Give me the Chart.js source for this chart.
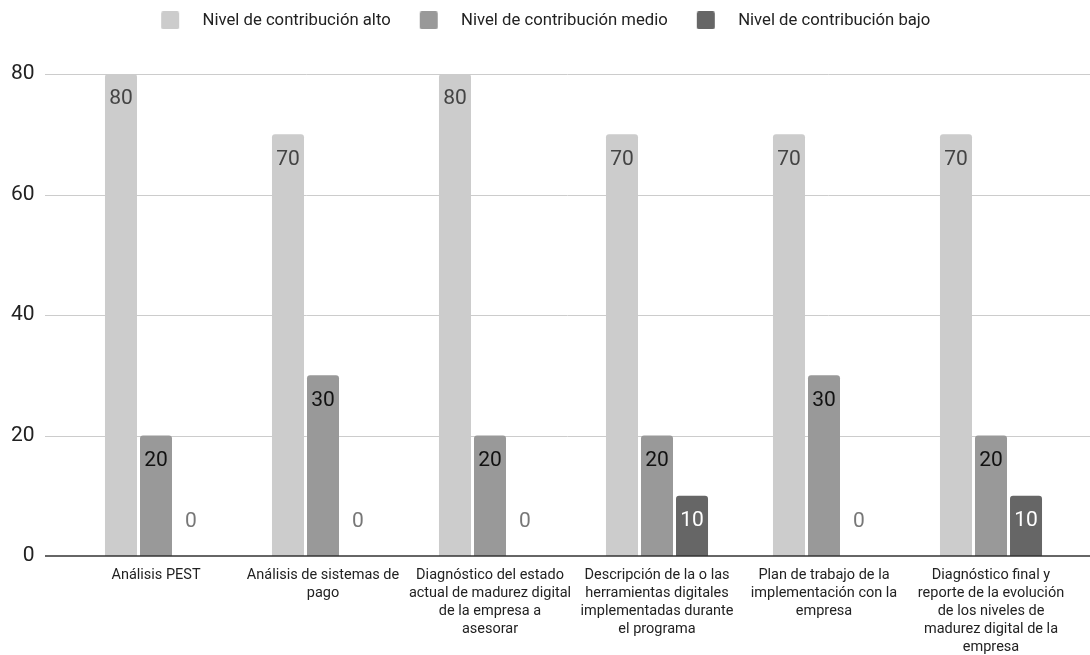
<!DOCTYPE html>
<html><head><meta charset="utf-8">
<script src="https://cdn.jsdelivr.net/npm/chart.js@4"></script>
<style>html,body{margin:0;padding:0;background:#fff}#wrap{width:1090px;height:655px;position:relative}</style>
</head><body><div id="wrap"><canvas id="c"></canvas></div>
<script>
const categories = [
  ["Análisis PEST"],
  ["Análisis de sistemas de", "pago"],
  ["Diagnóstico del estado", "actual de madurez digital", "de la empresa a", "asesorar"],
  ["Descripción de la o las", "herramientas digitales", "implementadas durante", "el programa"],
  ["Plan de trabajo de la", "implementación con la", "empresa"],
  ["Diagnóstico final y", "reporte de la evolución", "de los niveles de", "madurez digital de la", "empresa"]
];
const seriesNames = ["Nivel de contribución alto", "Nivel de contribución medio", "Nivel de contribución bajo"];
const altoValues = [80, 70, 80, 70, 70, 70];
const medioValues = [20, 30, 20, 20, 30, 20];
const bajoValues = [0, 0, 0, 10, 0, 10];
const yTickValues = [0, 20, 40, 60, 80];

const colors = ['#cccccc', '#999999', '#666666'];
const labelColors = ['#444444', '#111111', '#ffffff'];

function makeSwatch(color) {
  const cv = document.createElement('canvas');
  cv.width = 50; cv.height = 18;
  const g = cv.getContext('2d');
  g.fillStyle = color;
  const x = 17, y = 0, w = 18, h = 18, r = 2;
  g.beginPath();
  g.moveTo(x + r, y); g.lineTo(x + w - r, y); g.quadraticCurveTo(x + w, y, x + w, y + r);
  g.lineTo(x + w, y + h - r); g.quadraticCurveTo(x + w, y + h, x + w - r, y + h);
  g.lineTo(x + r, y + h); g.quadraticCurveTo(x, y + h, x, y + h - r);
  g.lineTo(x, y + r); g.quadraticCurveTo(x, y, x + r, y);
  g.fill();
  return cv;
}

const gridPlugin = {
  id: 'extGrid',
  beforeDatasetsDraw(chart) {
    const ys = chart.scales.y, ctx = chart.ctx;
    ctx.save();
    ctx.strokeStyle = '#cccccc';
    ctx.lineWidth = 1;
    ys.ticks.forEach(t => {
      if (t.value === 0) return;
      const py = Math.round(ys.getPixelForValue(t.value)) + 0.5;
      ctx.beginPath(); ctx.moveTo(45, py); ctx.lineTo(chart.width, py); ctx.stroke();
    });
    ctx.restore();
  },
  afterDatasetsDraw(chart) {
    const ys = chart.scales.y, ctx = chart.ctx;
    const py = ys.getPixelForValue(0);
    ctx.save();
    ctx.strokeStyle = '#333333';
    ctx.lineWidth = 1.6;
    ctx.beginPath(); ctx.moveTo(45, py); ctx.lineTo(chart.width, py); ctx.stroke();
    ctx.restore();
  }
};

const valueLabels = {
  id: 'valueLabels',
  afterDraw(chart) {
    const ctx = chart.ctx;
    ctx.save();
    ctx.font = '21px Roboto';
    ctx.textAlign = 'center';
    ctx.textBaseline = 'middle';
    chart.data.datasets.forEach((ds, di) => {
      const meta = chart.getDatasetMeta(di);
      meta.data.forEach((bar, i) => {
        const v = ds.data[i];
        let y, col;
        if (v > 0) { y = bar.y + 25; col = labelColors[di]; }
        else { y = bar.base - 34; col = '#777777'; }
        ctx.fillStyle = col;
        ctx.fillText(String(v), bar.x, y);
      });
    });
    ctx.restore();
  }
};

const legendSpacer = {
  id: 'legendSpacer',
  beforeLayout(chart) {
    const lg = chart.legend;
    if (lg && !lg._patched) {
      const f = lg.fit.bind(lg);
      lg.fit = function () { f(); this.height = 74; };
      lg._patched = true;
    }
  }
};

const allValues = [altoValues, medioValues, bajoValues];

new Chart(document.getElementById('c'), {
  type: 'bar',
  data: {
    labels: categories,
    datasets: seriesNames.map((n, i) => ({
      label: n,
      data: allValues[i],
      backgroundColor: colors[i],
      borderRadius: { topLeft: 3, topRight: 3, bottomLeft: 0, bottomRight: 0 },
      borderSkipped: 'start',
      pointStyle: makeSwatch(colors[i]),
      categoryPercentage: 0.629,
      barPercentage: 0.914
    }))
  },
  options: {
    responsive: true,
    maintainAspectRatio: false,
    animation: false,
    layout: { padding: { left: 0, right: 15.5, top: 0, bottom: 0 } },
    plugins: {
      tooltip: { enabled: false },
      legend: {
        position: 'top',
        align: 'center',
        labels: {
          usePointStyle: true,
          pointStyleWidth: 50,
          boxHeight: 17,
          padding: 12,
          color: '#222222',
          font: { family: 'Roboto', size: 16.7 }
        }
      }
    },
    scales: {
      x: {
        offset: true,
        grid: { display: false, drawTicks: false },
        border: { display: false },
        ticks: {
          autoSkip: false, maxRotation: 0, minRotation: 0,
          padding: 10,
          color: '#222222',
          font: { family: 'Roboto', size: 14.5, lineHeight: '18px' }
        },
        afterFit(s) { s.height = 99; }
      },
      y: {
        min: 0, max: 80,
        grid: { display: false, drawTicks: false },
        border: { display: false },
        afterBuildTicks(s) { s.ticks = yTickValues.map(v => ({ value: v })); },
        ticks: {
          padding: 38,
          color: '#222222',
          font: { family: 'Roboto', size: 21 }
        },
        afterFit(s) { s.width = 72.5; }
      }
    }
  },
  plugins: [legendSpacer, gridPlugin, valueLabels]
});
</script>
</body></html>
